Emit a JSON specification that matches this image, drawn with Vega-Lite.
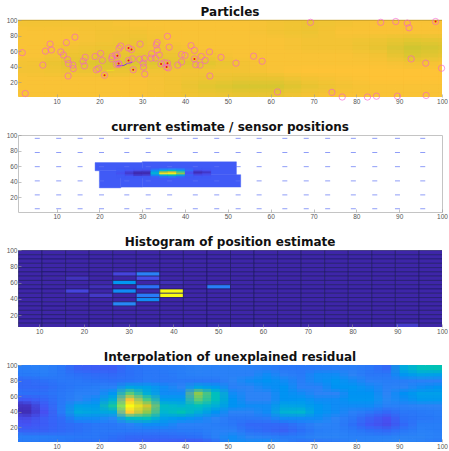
{"$schema":"https://vega.github.io/schema/vega-lite/v6.json","padding":{"left":5,"top":5,"right":0,"bottom":0},"spacing":38,"bounds":"flush","background":"white",
"config":{"view":{"stroke":null},"axis":{"title":null,"labelFont":"Liberation Sans","labelFontSize":6.5,"labelColor":"#555555","domain":false,"grid":false,"tickColor":"#999999","tickSize":-3,"tickWidth":0.6,"labelPadding":4,"labelOverlap":false,"labelFlush":false},"title":{"font":"DejaVu Sans","fontWeight":"bold","fontSize":12,"color":"#111111","anchor":"middle","offset":-2}},
"datasets":{
"particles":[{"x":2,"y":58},{"x":2.7,"y":5.5},{"x":6.8,"y":42},{"x":7.4,"y":60},{"x":8.5,"y":69},{"x":8.8,"y":61.5},{"x":11,"y":59},{"x":11.6,"y":55},{"x":12.3,"y":71},{"x":12.6,"y":49},{"x":12.8,"y":44},{"x":12.7,"y":28},{"x":14.3,"y":78},{"x":13.8,"y":42},{"x":13.9,"y":37.5},{"x":16.2,"y":47},{"x":16.5,"y":41},{"x":16.7,"y":52},{"x":19,"y":53},{"x":19.3,"y":36},{"x":19.8,"y":37.5},{"x":20.3,"y":57},{"x":20.7,"y":48},{"x":21.2,"y":29},{"x":22.9,"y":50},{"x":23,"y":53},{"x":23.8,"y":55},{"x":24,"y":43},{"x":24.2,"y":54},{"x":24.6,"y":63.5},{"x":25,"y":66.5},{"x":24.5,"y":44},{"x":24.6,"y":43},{"x":26.8,"y":64},{"x":27.5,"y":62},{"x":26.8,"y":48},{"x":27.7,"y":50},{"x":27.9,"y":36},{"x":29.5,"y":69},{"x":29.4,"y":49.5},{"x":30.2,"y":44.5},{"x":30.3,"y":39.5},{"x":30.6,"y":30.5},{"x":30.5,"y":50.5},{"x":32.2,"y":56.5},{"x":32.1,"y":51},{"x":33.1,"y":51},{"x":33.5,"y":71},{"x":33.3,"y":68},{"x":33.5,"y":61.5},{"x":34,"y":55},{"x":34.4,"y":43.5},{"x":35.2,"y":45},{"x":35.9,"y":79},{"x":36.3,"y":65},{"x":35.9,"y":44.5},{"x":35.7,"y":39.5},{"x":36.1,"y":38.5},{"x":38.3,"y":42},{"x":39.2,"y":55.5},{"x":39.2,"y":46},{"x":40,"y":54.5},{"x":41.4,"y":67},{"x":42.2,"y":61},{"x":42.2,"y":50},{"x":42.5,"y":42.5},{"x":43.5,"y":42},{"x":43.8,"y":53},{"x":44.7,"y":48},{"x":45.7,"y":59},{"x":45.8,"y":28},{"x":48.4,"y":52},{"x":51.9,"y":44.5},{"x":56,"y":53.5},{"x":58,"y":47},{"x":61.6,"y":7.5},{"x":69.3,"y":97},{"x":74.3,"y":7},{"x":76.7,"y":1},{"x":82.6,"y":1},{"x":84.7,"y":2},{"x":85.7,"y":97},{"x":89.2,"y":98},{"x":89.6,"y":2},{"x":91.9,"y":96},{"x":92.3,"y":90},{"x":92.8,"y":50},{"x":96.2,"y":44.5},{"x":96.3,"y":3},{"x":98.5,"y":98},{"x":99.9,"y":38}],
"reddots":[{"x":21.2,"y":29},{"x":24.2,"y":54},{"x":24.5,"y":44},{"x":26.8,"y":64},{"x":27.5,"y":62},{"x":26.8,"y":48},{"x":27.9,"y":36},{"x":34.4,"y":43.5},{"x":35.9,"y":44.5},{"x":35.7,"y":39.5},{"x":42.2,"y":50},{"x":98.5,"y":98}],
"track":[{"x":24,"y":41},{"x":25.7,"y":41.5},{"x":26.5,"y":44},{"x":27.7,"y":45.5}],
"streak":[{"x":21.7,"y":35},{"x":23.5,"y":35.5}],
"topedge":[{"x":1,"y":99.6},{"x":100,"y":99.6}],
"bg1":[
{"x":1,"y":90,"v":0.84},{"x":9,"y":90,"v":0.84},{"x":17,"y":90,"v":0.84},{"x":25,"y":90,"v":0.85},{"x":33,"y":90,"v":0.85},{"x":41,"y":90,"v":0.85},{"x":49,"y":90,"v":0.85},{"x":57,"y":90,"v":0.84},{"x":65,"y":90,"v":0.83},{"x":73,"y":90,"v":0.84},{"x":81,"y":90,"v":0.85},{"x":89,"y":90,"v":0.85},{"x":97,"y":90,"v":0.85},
{"x":1,"y":80,"v":0.85},{"x":9,"y":80,"v":0.85},{"x":17,"y":80,"v":0.84},{"x":25,"y":80,"v":0.84},{"x":33,"y":80,"v":0.85},{"x":41,"y":80,"v":0.85},{"x":49,"y":80,"v":0.85},{"x":57,"y":80,"v":0.84},{"x":65,"y":80,"v":0.83},{"x":73,"y":80,"v":0.85},{"x":81,"y":80,"v":0.85},{"x":89,"y":80,"v":0.85},{"x":97,"y":80,"v":0.85},
{"x":1,"y":70,"v":0.85},{"x":9,"y":70,"v":0.85},{"x":17,"y":70,"v":0.84},{"x":25,"y":70,"v":0.83},{"x":33,"y":70,"v":0.85},{"x":41,"y":70,"v":0.85},{"x":49,"y":70,"v":0.85},{"x":57,"y":70,"v":0.85},{"x":65,"y":70,"v":0.84},{"x":73,"y":70,"v":0.84},{"x":81,"y":70,"v":0.83},{"x":89,"y":70,"v":0.81},{"x":97,"y":70,"v":0.82},
{"x":1,"y":60,"v":0.85},{"x":9,"y":60,"v":0.84},{"x":17,"y":60,"v":0.83},{"x":25,"y":60,"v":0.83},{"x":33,"y":60,"v":0.84},{"x":41,"y":60,"v":0.85},{"x":49,"y":60,"v":0.85},{"x":57,"y":60,"v":0.85},{"x":65,"y":60,"v":0.84},{"x":73,"y":60,"v":0.84},{"x":81,"y":60,"v":0.82},{"x":89,"y":60,"v":0.78},{"x":97,"y":60,"v":0.8},
{"x":1,"y":50,"v":0.85},{"x":9,"y":50,"v":0.83},{"x":17,"y":50,"v":0.82},{"x":25,"y":50,"v":0.82},{"x":33,"y":50,"v":0.83},{"x":41,"y":50,"v":0.84},{"x":49,"y":50,"v":0.85},{"x":57,"y":50,"v":0.85},{"x":65,"y":50,"v":0.85},{"x":73,"y":50,"v":0.85},{"x":81,"y":50,"v":0.84},{"x":89,"y":50,"v":0.8},{"x":97,"y":50,"v":0.82},
{"x":1,"y":40,"v":0.84},{"x":9,"y":40,"v":0.81},{"x":17,"y":40,"v":0.8},{"x":25,"y":40,"v":0.8},{"x":33,"y":40,"v":0.81},{"x":41,"y":40,"v":0.81},{"x":49,"y":40,"v":0.84},{"x":57,"y":40,"v":0.85},{"x":65,"y":40,"v":0.85},{"x":73,"y":40,"v":0.85},{"x":81,"y":40,"v":0.85},{"x":89,"y":40,"v":0.84},{"x":97,"y":40,"v":0.85},
{"x":1,"y":30,"v":0.84},{"x":9,"y":30,"v":0.83},{"x":17,"y":30,"v":0.82},{"x":25,"y":30,"v":0.83},{"x":33,"y":30,"v":0.84},{"x":41,"y":30,"v":0.84},{"x":49,"y":30,"v":0.84},{"x":57,"y":30,"v":0.85},{"x":65,"y":30,"v":0.86},{"x":73,"y":30,"v":0.86},{"x":81,"y":30,"v":0.86},{"x":89,"y":30,"v":0.86},{"x":97,"y":30,"v":0.86},
{"x":1,"y":20,"v":0.85},{"x":9,"y":20,"v":0.85},{"x":17,"y":20,"v":0.85},{"x":25,"y":20,"v":0.85},{"x":33,"y":20,"v":0.84},{"x":41,"y":20,"v":0.83},{"x":49,"y":20,"v":0.82},{"x":57,"y":20,"v":0.82},{"x":65,"y":20,"v":0.84},{"x":73,"y":20,"v":0.85},{"x":81,"y":20,"v":0.86},{"x":89,"y":20,"v":0.86},{"x":97,"y":20,"v":0.86},
{"x":1,"y":10,"v":0.85},{"x":9,"y":10,"v":0.85},{"x":17,"y":10,"v":0.85},{"x":25,"y":10,"v":0.85},{"x":33,"y":10,"v":0.84},{"x":41,"y":10,"v":0.81},{"x":49,"y":10,"v":0.79},{"x":57,"y":10,"v":0.79},{"x":65,"y":10,"v":0.82},{"x":73,"y":10,"v":0.84},{"x":81,"y":10,"v":0.85},{"x":89,"y":10,"v":0.85},{"x":97,"y":10,"v":0.85},
{"x":1,"y":0,"v":0.85},{"x":9,"y":0,"v":0.85},{"x":17,"y":0,"v":0.85},{"x":25,"y":0,"v":0.85},{"x":33,"y":0,"v":0.84},{"x":41,"y":0,"v":0.83},{"x":49,"y":0,"v":0.82},{"x":57,"y":0,"v":0.82},{"x":65,"y":0,"v":0.84},{"x":73,"y":0,"v":0.85},{"x":81,"y":0,"v":0.85},{"x":89,"y":0,"v":0.85},{"x":97,"y":0,"v":0.85}],
"sensors":[{"x":5.5,"y":95.7},{"x":10.5,"y":95.7},{"x":15.5,"y":95.7},{"x":20.5,"y":95.7},{"x":26.4,"y":95.7},{"x":31.4,"y":95.7},{"x":36.4,"y":95.7},{"x":42.4,"y":95.7},{"x":47.4,"y":95.7},{"x":52.4,"y":95.7},{"x":57.3,"y":95.7},{"x":63.3,"y":95.7},{"x":68.3,"y":95.7},{"x":73.3,"y":95.7},{"x":79.3,"y":95.7},{"x":84.3,"y":95.7},{"x":89.6,"y":95.7},{"x":95.5,"y":95.7},
{"x":5.5,"y":77.5},{"x":10.5,"y":77.5},{"x":15.5,"y":77.5},{"x":20.5,"y":77.5},{"x":26.4,"y":77.5},{"x":31.4,"y":77.5},{"x":36.4,"y":77.5},{"x":42.4,"y":77.5},{"x":47.4,"y":77.5},{"x":52.4,"y":77.5},{"x":57.3,"y":77.5},{"x":63.3,"y":77.5},{"x":68.3,"y":77.5},{"x":73.3,"y":77.5},{"x":79.3,"y":77.5},{"x":84.3,"y":77.5},{"x":89.6,"y":77.5},{"x":95.5,"y":77.5},
{"x":5.5,"y":59.3},{"x":10.5,"y":59.3},{"x":15.5,"y":59.3},{"x":20.5,"y":59.3},{"x":26.4,"y":59.3},{"x":31.4,"y":59.3},{"x":36.4,"y":59.3},{"x":42.4,"y":59.3},{"x":47.4,"y":59.3},{"x":52.4,"y":59.3},{"x":57.3,"y":59.3},{"x":63.3,"y":59.3},{"x":68.3,"y":59.3},{"x":73.3,"y":59.3},{"x":79.3,"y":59.3},{"x":84.3,"y":59.3},{"x":89.6,"y":59.3},{"x":95.5,"y":59.3},
{"x":5.5,"y":41},{"x":10.5,"y":41},{"x":15.5,"y":41},{"x":20.5,"y":41},{"x":26.4,"y":41},{"x":31.4,"y":41},{"x":36.4,"y":41},{"x":42.4,"y":41},{"x":47.4,"y":41},{"x":52.4,"y":41},{"x":57.3,"y":41},{"x":63.3,"y":41},{"x":68.3,"y":41},{"x":73.3,"y":41},{"x":79.3,"y":41},{"x":84.3,"y":41},{"x":89.6,"y":41},{"x":95.5,"y":41},
{"x":5.5,"y":23},{"x":10.5,"y":23},{"x":15.5,"y":23},{"x":20.5,"y":23},{"x":26.4,"y":23},{"x":31.4,"y":23},{"x":36.4,"y":23},{"x":42.4,"y":23},{"x":47.4,"y":23},{"x":52.4,"y":23},{"x":57.3,"y":23},{"x":63.3,"y":23},{"x":68.3,"y":23},{"x":73.3,"y":23},{"x":79.3,"y":23},{"x":84.3,"y":23},{"x":89.6,"y":23},{"x":95.5,"y":23},
{"x":5.5,"y":5.2},{"x":10.5,"y":5.2},{"x":15.5,"y":5.2},{"x":20.5,"y":5.2},{"x":26.4,"y":5.2},{"x":31.4,"y":5.2},{"x":36.4,"y":5.2},{"x":42.4,"y":5.2},{"x":47.4,"y":5.2},{"x":52.4,"y":5.2},{"x":57.3,"y":5.2},{"x":63.3,"y":5.2},{"x":68.3,"y":5.2},{"x":73.3,"y":5.2},{"x":79.3,"y":5.2},{"x":84.3,"y":5.2},{"x":89.6,"y":5.2},{"x":95.5,"y":5.2}],
"est":[{"x":19,"x2":30,"y":54,"y2":64.5,"v":0.16},{"x":30,"x2":52,"y":49,"y2":65.5,"v":0.16},{"x":20,"x2":25,"y":32,"y2":54,"v":0.16},{"x":25,"x2":30,"y":33,"y2":54,"v":0.16},{"x":30,"x2":53,"y":33,"y2":49,"v":0.16},
{"x":24,"x2":26,"y":55,"y2":57,"v":0.16},{"x":26,"x2":28,"y":55,"y2":57,"v":0.16},{"x":28,"x2":30,"y":55,"y2":57,"v":0.16},{"x":30,"x2":32,"y":55,"y2":57,"v":0.16},{"x":32,"x2":34,"y":55,"y2":57,"v":0.2},{"x":34,"x2":36,"y":55,"y2":57,"v":0.25},{"x":36,"x2":38,"y":55,"y2":57,"v":0.27},{"x":38,"x2":40,"y":55,"y2":57,"v":0.25},{"x":40,"x2":42,"y":55,"y2":57,"v":0.18},{"x":42,"x2":44,"y":55,"y2":57,"v":0.16},{"x":44,"x2":46,"y":55,"y2":57,"v":0.16},
{"x":24,"x2":26,"y":53,"y2":55,"v":0.16},{"x":26,"x2":28,"y":53,"y2":55,"v":0.14},{"x":28,"x2":30,"y":53,"y2":55,"v":0.12},{"x":30,"x2":32,"y":53,"y2":55,"v":0.11},{"x":32,"x2":34,"y":53,"y2":55,"v":0.3},{"x":34,"x2":36,"y":53,"y2":55,"v":0.45},{"x":36,"x2":38,"y":53,"y2":55,"v":0.5},{"x":38,"x2":40,"y":53,"y2":55,"v":0.4},{"x":40,"x2":42,"y":53,"y2":55,"v":0.2},{"x":42,"x2":44,"y":53,"y2":55,"v":0.11},{"x":44,"x2":46,"y":53,"y2":55,"v":0.13},
{"x":24,"x2":26,"y":51,"y2":53,"v":0.15},{"x":26,"x2":28,"y":51,"y2":53,"v":0.09},{"x":28,"x2":30,"y":51,"y2":53,"v":0.03},{"x":30,"x2":32,"y":51,"y2":53,"v":0.03},{"x":32,"x2":34,"y":51,"y2":53,"v":0.4},{"x":34,"x2":36,"y":51,"y2":53,"v":0.72},{"x":36,"x2":38,"y":51,"y2":53,"v":0.8},{"x":38,"x2":40,"y":51,"y2":53,"v":0.6},{"x":40,"x2":42,"y":51,"y2":53,"v":0.15},{"x":42,"x2":44,"y":51,"y2":53,"v":0.03},{"x":44,"x2":46,"y":51,"y2":53,"v":0.06},
{"x":24,"x2":26,"y":49,"y2":51,"v":0.14},{"x":26,"x2":28,"y":49,"y2":51,"v":0.07},{"x":28,"x2":30,"y":49,"y2":51,"v":0.01},{"x":30,"x2":32,"y":49,"y2":51,"v":0.02},{"x":32,"x2":34,"y":49,"y2":51,"v":0.45},{"x":34,"x2":36,"y":49,"y2":51,"v":0.96},{"x":36,"x2":38,"y":49,"y2":51,"v":1},{"x":38,"x2":40,"y":49,"y2":51,"v":0.7},{"x":40,"x2":42,"y":49,"y2":51,"v":0.14},{"x":42,"x2":44,"y":49,"y2":51,"v":0.06},{"x":44,"x2":46,"y":49,"y2":51,"v":0.1},
{"x":24,"x2":26,"y":47,"y2":49,"v":0.16},{"x":26,"x2":28,"y":47,"y2":49,"v":0.13},{"x":28,"x2":30,"y":47,"y2":49,"v":0.07},{"x":30,"x2":32,"y":47,"y2":49,"v":0.09},{"x":32,"x2":34,"y":47,"y2":49,"v":0.3},{"x":34,"x2":36,"y":47,"y2":49,"v":0.45},{"x":36,"x2":38,"y":47,"y2":49,"v":0.52},{"x":38,"x2":40,"y":47,"y2":49,"v":0.4},{"x":40,"x2":42,"y":47,"y2":49,"v":0.18},{"x":42,"x2":44,"y":47,"y2":49,"v":0.13},{"x":44,"x2":46,"y":47,"y2":49,"v":0.14},
{"x":24,"x2":26,"y":45,"y2":47,"v":0.16},{"x":26,"x2":28,"y":45,"y2":47,"v":0.16},{"x":28,"x2":30,"y":45,"y2":47,"v":0.16},{"x":30,"x2":32,"y":45,"y2":47,"v":0.16},{"x":32,"x2":34,"y":45,"y2":47,"v":0.18},{"x":34,"x2":36,"y":45,"y2":47,"v":0.22},{"x":36,"x2":38,"y":45,"y2":47,"v":0.24},{"x":38,"x2":40,"y":45,"y2":47,"v":0.2},{"x":40,"x2":42,"y":45,"y2":47,"v":0.16},{"x":42,"x2":44,"y":45,"y2":47,"v":0.16},{"x":44,"x2":46,"y":45,"y2":47,"v":0.16}],
"hist":[
{"x":5.26,"y":94.74,"v":0},{"x":10.53,"y":94.74,"v":0},{"x":15.79,"y":94.74,"v":0},{"x":21.05,"y":94.74,"v":0},{"x":26.32,"y":94.74,"v":0},{"x":31.58,"y":94.74,"v":0},{"x":36.84,"y":94.74,"v":0},{"x":42.11,"y":94.74,"v":0},{"x":47.37,"y":94.74,"v":0},{"x":52.63,"y":94.74,"v":0},{"x":57.89,"y":94.74,"v":0},{"x":63.16,"y":94.74,"v":0},{"x":68.42,"y":94.74,"v":0},{"x":73.68,"y":94.74,"v":0},{"x":78.95,"y":94.74,"v":0},{"x":84.21,"y":94.74,"v":0},{"x":89.47,"y":94.74,"v":0},{"x":94.74,"y":94.74,"v":0},
{"x":5.26,"y":89.47,"v":0},{"x":10.53,"y":89.47,"v":0},{"x":15.79,"y":89.47,"v":0},{"x":21.05,"y":89.47,"v":0},{"x":26.32,"y":89.47,"v":0},{"x":31.58,"y":89.47,"v":0},{"x":36.84,"y":89.47,"v":0},{"x":42.11,"y":89.47,"v":0},{"x":47.37,"y":89.47,"v":0},{"x":52.63,"y":89.47,"v":0},{"x":57.89,"y":89.47,"v":0},{"x":63.16,"y":89.47,"v":0},{"x":68.42,"y":89.47,"v":0},{"x":73.68,"y":89.47,"v":0},{"x":78.95,"y":89.47,"v":0},{"x":84.21,"y":89.47,"v":0},{"x":89.47,"y":89.47,"v":0},{"x":94.74,"y":89.47,"v":0},
{"x":5.26,"y":84.21,"v":0},{"x":10.53,"y":84.21,"v":0},{"x":15.79,"y":84.21,"v":0},{"x":21.05,"y":84.21,"v":0},{"x":26.32,"y":84.21,"v":0},{"x":31.58,"y":84.21,"v":0},{"x":36.84,"y":84.21,"v":0},{"x":42.11,"y":84.21,"v":0},{"x":47.37,"y":84.21,"v":0},{"x":52.63,"y":84.21,"v":0},{"x":57.89,"y":84.21,"v":0},{"x":63.16,"y":84.21,"v":0},{"x":68.42,"y":84.21,"v":0},{"x":73.68,"y":84.21,"v":0},{"x":78.95,"y":84.21,"v":0},{"x":84.21,"y":84.21,"v":0},{"x":89.47,"y":84.21,"v":0},{"x":94.74,"y":84.21,"v":0},
{"x":5.26,"y":78.95,"v":0},{"x":10.53,"y":78.95,"v":0},{"x":15.79,"y":78.95,"v":0},{"x":21.05,"y":78.95,"v":0},{"x":26.32,"y":78.95,"v":0},{"x":31.58,"y":78.95,"v":0},{"x":36.84,"y":78.95,"v":0},{"x":42.11,"y":78.95,"v":0},{"x":47.37,"y":78.95,"v":0},{"x":52.63,"y":78.95,"v":0},{"x":57.89,"y":78.95,"v":0},{"x":63.16,"y":78.95,"v":0},{"x":68.42,"y":78.95,"v":0},{"x":73.68,"y":78.95,"v":0},{"x":78.95,"y":78.95,"v":0},{"x":84.21,"y":78.95,"v":0},{"x":89.47,"y":78.95,"v":0},{"x":94.74,"y":78.95,"v":0},
{"x":5.26,"y":73.68,"v":0},{"x":10.53,"y":73.68,"v":0},{"x":15.79,"y":73.68,"v":0},{"x":21.05,"y":73.68,"v":0},{"x":26.32,"y":73.68,"v":0},{"x":31.58,"y":73.68,"v":0},{"x":36.84,"y":73.68,"v":0},{"x":42.11,"y":73.68,"v":0},{"x":47.37,"y":73.68,"v":0},{"x":52.63,"y":73.68,"v":0},{"x":57.89,"y":73.68,"v":0},{"x":63.16,"y":73.68,"v":0},{"x":68.42,"y":73.68,"v":0},{"x":73.68,"y":73.68,"v":0},{"x":78.95,"y":73.68,"v":0},{"x":84.21,"y":73.68,"v":0},{"x":89.47,"y":73.68,"v":0},{"x":94.74,"y":73.68,"v":0},
{"x":5.26,"y":68.42,"v":0},{"x":10.53,"y":68.42,"v":0},{"x":15.79,"y":68.42,"v":0},{"x":21.05,"y":68.42,"v":0},{"x":26.32,"y":68.42,"v":0.1},{"x":31.58,"y":68.42,"v":0.27},{"x":36.84,"y":68.42,"v":0},{"x":42.11,"y":68.42,"v":0},{"x":47.37,"y":68.42,"v":0},{"x":52.63,"y":68.42,"v":0},{"x":57.89,"y":68.42,"v":0},{"x":63.16,"y":68.42,"v":0},{"x":68.42,"y":68.42,"v":0},{"x":73.68,"y":68.42,"v":0},{"x":78.95,"y":68.42,"v":0},{"x":84.21,"y":68.42,"v":0},{"x":89.47,"y":68.42,"v":0},{"x":94.74,"y":68.42,"v":0},
{"x":5.26,"y":63.16,"v":0},{"x":10.53,"y":63.16,"v":0},{"x":15.79,"y":63.16,"v":0.04},{"x":21.05,"y":63.16,"v":0},{"x":26.32,"y":63.16,"v":0},{"x":31.58,"y":63.16,"v":0.12},{"x":36.84,"y":63.16,"v":0},{"x":42.11,"y":63.16,"v":0},{"x":47.37,"y":63.16,"v":0},{"x":52.63,"y":63.16,"v":0},{"x":57.89,"y":63.16,"v":0},{"x":63.16,"y":63.16,"v":0},{"x":68.42,"y":63.16,"v":0},{"x":73.68,"y":63.16,"v":0},{"x":78.95,"y":63.16,"v":0},{"x":84.21,"y":63.16,"v":0},{"x":89.47,"y":63.16,"v":0},{"x":94.74,"y":63.16,"v":0},
{"x":5.26,"y":57.89,"v":0},{"x":10.53,"y":57.89,"v":0},{"x":15.79,"y":57.89,"v":0},{"x":21.05,"y":57.89,"v":0},{"x":26.32,"y":57.89,"v":0.33},{"x":31.58,"y":57.89,"v":0},{"x":36.84,"y":57.89,"v":0.03},{"x":42.11,"y":57.89,"v":0},{"x":47.37,"y":57.89,"v":0},{"x":52.63,"y":57.89,"v":0},{"x":57.89,"y":57.89,"v":0},{"x":63.16,"y":57.89,"v":0},{"x":68.42,"y":57.89,"v":0},{"x":73.68,"y":57.89,"v":0},{"x":78.95,"y":57.89,"v":0},{"x":84.21,"y":57.89,"v":0},{"x":89.47,"y":57.89,"v":0},{"x":94.74,"y":57.89,"v":0},
{"x":5.26,"y":52.63,"v":0},{"x":10.53,"y":52.63,"v":0},{"x":15.79,"y":52.63,"v":0},{"x":21.05,"y":52.63,"v":0.03},{"x":26.32,"y":52.63,"v":0},{"x":31.58,"y":52.63,"v":0.22},{"x":36.84,"y":52.63,"v":0},{"x":42.11,"y":52.63,"v":0},{"x":47.37,"y":52.63,"v":0.26},{"x":52.63,"y":52.63,"v":0},{"x":57.89,"y":52.63,"v":0},{"x":63.16,"y":52.63,"v":0},{"x":68.42,"y":52.63,"v":0},{"x":73.68,"y":52.63,"v":0},{"x":78.95,"y":52.63,"v":0},{"x":84.21,"y":52.63,"v":0},{"x":89.47,"y":52.63,"v":0},{"x":94.74,"y":52.63,"v":0},
{"x":5.26,"y":47.37,"v":0},{"x":10.53,"y":47.37,"v":0},{"x":15.79,"y":47.37,"v":0.1},{"x":21.05,"y":47.37,"v":0},{"x":26.32,"y":47.37,"v":0.3},{"x":31.58,"y":47.37,"v":0},{"x":36.84,"y":47.37,"v":1},{"x":42.11,"y":47.37,"v":0},{"x":47.37,"y":47.37,"v":0},{"x":52.63,"y":47.37,"v":0},{"x":57.89,"y":47.37,"v":0},{"x":63.16,"y":47.37,"v":0},{"x":68.42,"y":47.37,"v":0},{"x":73.68,"y":47.37,"v":0},{"x":78.95,"y":47.37,"v":0},{"x":84.21,"y":47.37,"v":0},{"x":89.47,"y":47.37,"v":0},{"x":94.74,"y":47.37,"v":0},
{"x":5.26,"y":42.11,"v":0},{"x":10.53,"y":42.11,"v":0},{"x":15.79,"y":42.11,"v":0},{"x":21.05,"y":42.11,"v":0.06},{"x":26.32,"y":42.11,"v":0},{"x":31.58,"y":42.11,"v":0.25},{"x":36.84,"y":42.11,"v":1},{"x":42.11,"y":42.11,"v":0},{"x":47.37,"y":42.11,"v":0},{"x":52.63,"y":42.11,"v":0},{"x":57.89,"y":42.11,"v":0},{"x":63.16,"y":42.11,"v":0},{"x":68.42,"y":42.11,"v":0},{"x":73.68,"y":42.11,"v":0},{"x":78.95,"y":42.11,"v":0},{"x":84.21,"y":42.11,"v":0},{"x":89.47,"y":42.11,"v":0},{"x":94.74,"y":42.11,"v":0},
{"x":5.26,"y":36.84,"v":0},{"x":10.53,"y":36.84,"v":0},{"x":15.79,"y":36.84,"v":0},{"x":21.05,"y":36.84,"v":0},{"x":26.32,"y":36.84,"v":0},{"x":31.58,"y":36.84,"v":0.3},{"x":36.84,"y":36.84,"v":0},{"x":42.11,"y":36.84,"v":0},{"x":47.37,"y":36.84,"v":0},{"x":52.63,"y":36.84,"v":0},{"x":57.89,"y":36.84,"v":0},{"x":63.16,"y":36.84,"v":0},{"x":68.42,"y":36.84,"v":0},{"x":73.68,"y":36.84,"v":0},{"x":78.95,"y":36.84,"v":0},{"x":84.21,"y":36.84,"v":0},{"x":89.47,"y":36.84,"v":0},{"x":94.74,"y":36.84,"v":0},
{"x":5.26,"y":31.58,"v":0},{"x":10.53,"y":31.58,"v":0},{"x":15.79,"y":31.58,"v":0},{"x":21.05,"y":31.58,"v":0},{"x":26.32,"y":31.58,"v":0.29},{"x":31.58,"y":31.58,"v":0},{"x":36.84,"y":31.58,"v":0},{"x":42.11,"y":31.58,"v":0},{"x":47.37,"y":31.58,"v":0},{"x":52.63,"y":31.58,"v":0},{"x":57.89,"y":31.58,"v":0},{"x":63.16,"y":31.58,"v":0},{"x":68.42,"y":31.58,"v":0},{"x":73.68,"y":31.58,"v":0},{"x":78.95,"y":31.58,"v":0},{"x":84.21,"y":31.58,"v":0},{"x":89.47,"y":31.58,"v":0},{"x":94.74,"y":31.58,"v":0},
{"x":5.26,"y":26.32,"v":0},{"x":10.53,"y":26.32,"v":0},{"x":15.79,"y":26.32,"v":0},{"x":21.05,"y":26.32,"v":0},{"x":26.32,"y":26.32,"v":0},{"x":31.58,"y":26.32,"v":0},{"x":36.84,"y":26.32,"v":0},{"x":42.11,"y":26.32,"v":0},{"x":47.37,"y":26.32,"v":0},{"x":52.63,"y":26.32,"v":0},{"x":57.89,"y":26.32,"v":0},{"x":63.16,"y":26.32,"v":0},{"x":68.42,"y":26.32,"v":0},{"x":73.68,"y":26.32,"v":0},{"x":78.95,"y":26.32,"v":0},{"x":84.21,"y":26.32,"v":0},{"x":89.47,"y":26.32,"v":0},{"x":94.74,"y":26.32,"v":0},
{"x":5.26,"y":21.05,"v":0},{"x":10.53,"y":21.05,"v":0},{"x":15.79,"y":21.05,"v":0},{"x":21.05,"y":21.05,"v":0},{"x":26.32,"y":21.05,"v":0},{"x":31.58,"y":21.05,"v":0},{"x":36.84,"y":21.05,"v":0},{"x":42.11,"y":21.05,"v":0},{"x":47.37,"y":21.05,"v":0},{"x":52.63,"y":21.05,"v":0},{"x":57.89,"y":21.05,"v":0},{"x":63.16,"y":21.05,"v":0},{"x":68.42,"y":21.05,"v":0},{"x":73.68,"y":21.05,"v":0},{"x":78.95,"y":21.05,"v":0},{"x":84.21,"y":21.05,"v":0},{"x":89.47,"y":21.05,"v":0},{"x":94.74,"y":21.05,"v":0},
{"x":5.26,"y":15.79,"v":0},{"x":10.53,"y":15.79,"v":0},{"x":15.79,"y":15.79,"v":0},{"x":21.05,"y":15.79,"v":0},{"x":26.32,"y":15.79,"v":0},{"x":31.58,"y":15.79,"v":0},{"x":36.84,"y":15.79,"v":0},{"x":42.11,"y":15.79,"v":0},{"x":47.37,"y":15.79,"v":0},{"x":52.63,"y":15.79,"v":0},{"x":57.89,"y":15.79,"v":0},{"x":63.16,"y":15.79,"v":0},{"x":68.42,"y":15.79,"v":0},{"x":73.68,"y":15.79,"v":0},{"x":78.95,"y":15.79,"v":0},{"x":84.21,"y":15.79,"v":0},{"x":89.47,"y":15.79,"v":0},{"x":94.74,"y":15.79,"v":0},
{"x":5.26,"y":10.53,"v":0},{"x":10.53,"y":10.53,"v":0},{"x":15.79,"y":10.53,"v":0},{"x":21.05,"y":10.53,"v":0},{"x":26.32,"y":10.53,"v":0},{"x":31.58,"y":10.53,"v":0},{"x":36.84,"y":10.53,"v":0},{"x":42.11,"y":10.53,"v":0},{"x":47.37,"y":10.53,"v":0},{"x":52.63,"y":10.53,"v":0},{"x":57.89,"y":10.53,"v":0},{"x":63.16,"y":10.53,"v":0},{"x":68.42,"y":10.53,"v":0},{"x":73.68,"y":10.53,"v":0},{"x":78.95,"y":10.53,"v":0},{"x":84.21,"y":10.53,"v":0},{"x":89.47,"y":10.53,"v":0},{"x":94.74,"y":10.53,"v":0},
{"x":5.26,"y":5.26,"v":0},{"x":10.53,"y":5.26,"v":0},{"x":15.79,"y":5.26,"v":0},{"x":21.05,"y":5.26,"v":0},{"x":26.32,"y":5.26,"v":0},{"x":31.58,"y":5.26,"v":0},{"x":36.84,"y":5.26,"v":0},{"x":42.11,"y":5.26,"v":0},{"x":47.37,"y":5.26,"v":0},{"x":52.63,"y":5.26,"v":0},{"x":57.89,"y":5.26,"v":0},{"x":63.16,"y":5.26,"v":0},{"x":68.42,"y":5.26,"v":0},{"x":73.68,"y":5.26,"v":0},{"x":78.95,"y":5.26,"v":0},{"x":84.21,"y":5.26,"v":0},{"x":89.47,"y":5.26,"v":0.07},{"x":94.74,"y":5.26,"v":0}],
"res":[
{"x":1,"y":92,"v":0.26},{"x":5,"y":92,"v":0.27},{"x":9,"y":92,"v":0.24},{"x":13,"y":92,"v":0.18},{"x":17,"y":92,"v":0.17},{"x":21,"y":92,"v":0.17},{"x":25,"y":92,"v":0.22},{"x":29,"y":92,"v":0.24},{"x":33,"y":92,"v":0.25},{"x":37,"y":92,"v":0.26},{"x":41,"y":92,"v":0.28},{"x":45,"y":92,"v":0.27},{"x":49,"y":92,"v":0.27},{"x":53,"y":92,"v":0.27},{"x":57,"y":92,"v":0.26},{"x":61,"y":92,"v":0.24},{"x":65,"y":92,"v":0.24},{"x":69,"y":92,"v":0.25},{"x":73,"y":92,"v":0.26},{"x":77,"y":92,"v":0.26},{"x":81,"y":92,"v":0.24},{"x":85,"y":92,"v":0.2},{"x":89,"y":92,"v":0.4},{"x":93,"y":92,"v":0.5},{"x":97,"y":92,"v":0.52},
{"x":1,"y":84,"v":0.25},{"x":5,"y":84,"v":0.26},{"x":9,"y":84,"v":0.24},{"x":13,"y":84,"v":0.22},{"x":17,"y":84,"v":0.21},{"x":21,"y":84,"v":0.2},{"x":25,"y":84,"v":0.22},{"x":29,"y":84,"v":0.24},{"x":33,"y":84,"v":0.24},{"x":37,"y":84,"v":0.26},{"x":41,"y":84,"v":0.27},{"x":45,"y":84,"v":0.27},{"x":49,"y":84,"v":0.27},{"x":53,"y":84,"v":0.27},{"x":57,"y":84,"v":0.3},{"x":61,"y":84,"v":0.27},{"x":65,"y":84,"v":0.25},{"x":69,"y":84,"v":0.3},{"x":73,"y":84,"v":0.3},{"x":77,"y":84,"v":0.28},{"x":81,"y":84,"v":0.24},{"x":85,"y":84,"v":0.24},{"x":89,"y":84,"v":0.33},{"x":93,"y":84,"v":0.37},{"x":97,"y":84,"v":0.36},
{"x":1,"y":76,"v":0.2},{"x":5,"y":76,"v":0.22},{"x":9,"y":76,"v":0.24},{"x":13,"y":76,"v":0.24},{"x":17,"y":76,"v":0.23},{"x":21,"y":76,"v":0.22},{"x":25,"y":76,"v":0.23},{"x":29,"y":76,"v":0.25},{"x":33,"y":76,"v":0.24},{"x":37,"y":76,"v":0.25},{"x":41,"y":76,"v":0.24},{"x":45,"y":76,"v":0.24},{"x":49,"y":76,"v":0.28},{"x":53,"y":76,"v":0.3},{"x":57,"y":76,"v":0.32},{"x":61,"y":76,"v":0.3},{"x":65,"y":76,"v":0.26},{"x":69,"y":76,"v":0.3},{"x":73,"y":76,"v":0.33},{"x":77,"y":76,"v":0.3},{"x":81,"y":76,"v":0.27},{"x":85,"y":76,"v":0.26},{"x":89,"y":76,"v":0.26},{"x":93,"y":76,"v":0.27},{"x":97,"y":76,"v":0.27},
{"x":1,"y":68,"v":0.2},{"x":5,"y":68,"v":0.2},{"x":9,"y":68,"v":0.23},{"x":13,"y":68,"v":0.25},{"x":17,"y":68,"v":0.26},{"x":21,"y":68,"v":0.27},{"x":25,"y":68,"v":0.38},{"x":29,"y":68,"v":0.36},{"x":33,"y":68,"v":0.3},{"x":37,"y":68,"v":0.28},{"x":41,"y":68,"v":0.38},{"x":45,"y":68,"v":0.34},{"x":49,"y":68,"v":0.27},{"x":53,"y":68,"v":0.28},{"x":57,"y":68,"v":0.3},{"x":61,"y":68,"v":0.32},{"x":65,"y":68,"v":0.27},{"x":69,"y":68,"v":0.27},{"x":73,"y":68,"v":0.32},{"x":77,"y":68,"v":0.33},{"x":81,"y":68,"v":0.3},{"x":85,"y":68,"v":0.27},{"x":89,"y":68,"v":0.28},{"x":93,"y":68,"v":0.3},{"x":97,"y":68,"v":0.32},
{"x":1,"y":60,"v":0.22},{"x":5,"y":60,"v":0.22},{"x":9,"y":60,"v":0.24},{"x":13,"y":60,"v":0.27},{"x":17,"y":60,"v":0.27},{"x":21,"y":60,"v":0.33},{"x":25,"y":60,"v":0.62},{"x":29,"y":60,"v":0.42},{"x":33,"y":60,"v":0.3},{"x":37,"y":60,"v":0.3},{"x":41,"y":60,"v":0.68},{"x":45,"y":60,"v":0.5},{"x":49,"y":60,"v":0.3},{"x":53,"y":60,"v":0.28},{"x":57,"y":60,"v":0.28},{"x":61,"y":60,"v":0.32},{"x":65,"y":60,"v":0.3},{"x":69,"y":60,"v":0.28},{"x":73,"y":60,"v":0.28},{"x":77,"y":60,"v":0.32},{"x":81,"y":60,"v":0.32},{"x":85,"y":60,"v":0.28},{"x":89,"y":60,"v":0.31},{"x":93,"y":60,"v":0.36},{"x":97,"y":60,"v":0.36},
{"x":1,"y":52,"v":0.16},{"x":5,"y":52,"v":0.19},{"x":9,"y":52,"v":0.24},{"x":13,"y":52,"v":0.28},{"x":17,"y":52,"v":0.3},{"x":21,"y":52,"v":0.42},{"x":25,"y":52,"v":0.85},{"x":29,"y":52,"v":0.6},{"x":33,"y":52,"v":0.35},{"x":37,"y":52,"v":0.35},{"x":41,"y":52,"v":0.62},{"x":45,"y":52,"v":0.5},{"x":49,"y":52,"v":0.32},{"x":53,"y":52,"v":0.28},{"x":57,"y":52,"v":0.28},{"x":61,"y":52,"v":0.32},{"x":65,"y":52,"v":0.33},{"x":69,"y":52,"v":0.3},{"x":73,"y":52,"v":0.3},{"x":77,"y":52,"v":0.33},{"x":81,"y":52,"v":0.33},{"x":85,"y":52,"v":0.29},{"x":89,"y":52,"v":0.3},{"x":93,"y":52,"v":0.34},{"x":97,"y":52,"v":0.34},
{"x":1,"y":44,"v":0.05},{"x":5,"y":44,"v":0.16},{"x":9,"y":44,"v":0.25},{"x":13,"y":44,"v":0.36},{"x":17,"y":44,"v":0.35},{"x":21,"y":44,"v":0.55},{"x":25,"y":44,"v":1},{"x":29,"y":44,"v":0.78},{"x":33,"y":44,"v":0.48},{"x":37,"y":44,"v":0.44},{"x":41,"y":44,"v":0.5},{"x":45,"y":44,"v":0.42},{"x":49,"y":44,"v":0.32},{"x":53,"y":44,"v":0.3},{"x":57,"y":44,"v":0.3},{"x":61,"y":44,"v":0.38},{"x":65,"y":44,"v":0.37},{"x":69,"y":44,"v":0.33},{"x":73,"y":44,"v":0.3},{"x":77,"y":44,"v":0.3},{"x":81,"y":44,"v":0.3},{"x":85,"y":44,"v":0.27},{"x":89,"y":44,"v":0.27},{"x":93,"y":44,"v":0.28},{"x":97,"y":44,"v":0.28},
{"x":1,"y":36,"v":0.03},{"x":5,"y":36,"v":0.14},{"x":9,"y":36,"v":0.25},{"x":13,"y":36,"v":0.4},{"x":17,"y":36,"v":0.38},{"x":21,"y":36,"v":0.4},{"x":25,"y":36,"v":0.88},{"x":29,"y":36,"v":0.68},{"x":33,"y":36,"v":0.45},{"x":37,"y":36,"v":0.52},{"x":41,"y":36,"v":0.42},{"x":45,"y":36,"v":0.32},{"x":49,"y":36,"v":0.28},{"x":53,"y":36,"v":0.28},{"x":57,"y":36,"v":0.3},{"x":61,"y":36,"v":0.44},{"x":65,"y":36,"v":0.46},{"x":69,"y":36,"v":0.33},{"x":73,"y":36,"v":0.3},{"x":77,"y":36,"v":0.27},{"x":81,"y":36,"v":0.24},{"x":85,"y":36,"v":0.2},{"x":89,"y":36,"v":0.24},{"x":93,"y":36,"v":0.25},{"x":97,"y":36,"v":0.26},
{"x":1,"y":28,"v":0.12},{"x":5,"y":28,"v":0.17},{"x":9,"y":28,"v":0.21},{"x":13,"y":28,"v":0.3},{"x":17,"y":28,"v":0.3},{"x":21,"y":28,"v":0.29},{"x":25,"y":28,"v":0.48},{"x":29,"y":28,"v":0.5},{"x":33,"y":28,"v":0.36},{"x":37,"y":28,"v":0.33},{"x":41,"y":28,"v":0.3},{"x":45,"y":28,"v":0.28},{"x":49,"y":28,"v":0.24},{"x":53,"y":28,"v":0.24},{"x":57,"y":28,"v":0.25},{"x":61,"y":28,"v":0.3},{"x":65,"y":28,"v":0.3},{"x":69,"y":28,"v":0.3},{"x":73,"y":28,"v":0.28},{"x":77,"y":28,"v":0.24},{"x":81,"y":28,"v":0.18},{"x":85,"y":28,"v":0.14},{"x":89,"y":28,"v":0.22},{"x":93,"y":28,"v":0.24},{"x":97,"y":28,"v":0.25},
{"x":1,"y":20,"v":0.15},{"x":5,"y":20,"v":0.17},{"x":9,"y":20,"v":0.2},{"x":13,"y":20,"v":0.22},{"x":17,"y":20,"v":0.24},{"x":21,"y":20,"v":0.24},{"x":25,"y":20,"v":0.27},{"x":29,"y":20,"v":0.3},{"x":33,"y":20,"v":0.3},{"x":37,"y":20,"v":0.27},{"x":41,"y":20,"v":0.27},{"x":45,"y":20,"v":0.26},{"x":49,"y":20,"v":0.24},{"x":53,"y":20,"v":0.2},{"x":57,"y":20,"v":0.2},{"x":61,"y":20,"v":0.2},{"x":65,"y":20,"v":0.24},{"x":69,"y":20,"v":0.28},{"x":73,"y":20,"v":0.27},{"x":77,"y":20,"v":0.22},{"x":81,"y":20,"v":0.16},{"x":85,"y":20,"v":0.13},{"x":89,"y":20,"v":0.2},{"x":93,"y":20,"v":0.26},{"x":97,"y":20,"v":0.26},
{"x":1,"y":12,"v":0.18},{"x":5,"y":12,"v":0.18},{"x":9,"y":12,"v":0.2},{"x":13,"y":12,"v":0.22},{"x":17,"y":12,"v":0.24},{"x":21,"y":12,"v":0.24},{"x":25,"y":12,"v":0.24},{"x":29,"y":12,"v":0.24},{"x":33,"y":12,"v":0.24},{"x":37,"y":12,"v":0.25},{"x":41,"y":12,"v":0.25},{"x":45,"y":12,"v":0.27},{"x":49,"y":12,"v":0.27},{"x":53,"y":12,"v":0.22},{"x":57,"y":12,"v":0.2},{"x":61,"y":12,"v":0.18},{"x":65,"y":12,"v":0.22},{"x":69,"y":12,"v":0.26},{"x":73,"y":12,"v":0.27},{"x":77,"y":12,"v":0.25},{"x":81,"y":12,"v":0.22},{"x":85,"y":12,"v":0.2},{"x":89,"y":12,"v":0.24},{"x":93,"y":12,"v":0.27},{"x":97,"y":12,"v":0.26},
{"x":1,"y":4,"v":0.26},{"x":5,"y":4,"v":0.26},{"x":9,"y":4,"v":0.25},{"x":13,"y":4,"v":0.24},{"x":17,"y":4,"v":0.24},{"x":21,"y":4,"v":0.22},{"x":25,"y":4,"v":0.2},{"x":29,"y":4,"v":0.2},{"x":33,"y":4,"v":0.2},{"x":37,"y":4,"v":0.21},{"x":41,"y":4,"v":0.22},{"x":45,"y":4,"v":0.27},{"x":49,"y":4,"v":0.3},{"x":53,"y":4,"v":0.28},{"x":57,"y":4,"v":0.27},{"x":61,"y":4,"v":0.25},{"x":65,"y":4,"v":0.26},{"x":69,"y":4,"v":0.28},{"x":73,"y":4,"v":0.28},{"x":77,"y":4,"v":0.27},{"x":81,"y":4,"v":0.27},{"x":85,"y":4,"v":0.27},{"x":89,"y":4,"v":0.28},{"x":93,"y":4,"v":0.28},{"x":97,"y":4,"v":0.27},
{"x":1,"y":-4,"v":0.25},{"x":5,"y":-4,"v":0.24},{"x":9,"y":-4,"v":0.24},{"x":13,"y":-4,"v":0.22},{"x":17,"y":-4,"v":0.22},{"x":21,"y":-4,"v":0.2},{"x":25,"y":-4,"v":0.18},{"x":29,"y":-4,"v":0.16},{"x":33,"y":-4,"v":0.16},{"x":37,"y":-4,"v":0.15},{"x":41,"y":-4,"v":0.14},{"x":45,"y":-4,"v":0.2},{"x":49,"y":-4,"v":0.3},{"x":53,"y":-4,"v":0.3},{"x":57,"y":-4,"v":0.3},{"x":61,"y":-4,"v":0.27},{"x":65,"y":-4,"v":0.22},{"x":69,"y":-4,"v":0.22},{"x":73,"y":-4,"v":0.24},{"x":77,"y":-4,"v":0.27},{"x":81,"y":-4,"v":0.27},{"x":85,"y":-4,"v":0.28},{"x":89,"y":-4,"v":0.28},{"x":93,"y":-4,"v":0.27},{"x":97,"y":-4,"v":0.24}]
},
"vconcat":[
{"title":"Particles","width":424,"height":77,"layer":[
{"data":{"name":"bg1"},"encoding":{"x":{"field":"x","type":"quantitative","bin":{"binned":true,"step":8},"scale":{"domain":[1,100],"nice":false,"zero":false},"axis":{"values":[10,20,30,40,50,60,70,80,90,100],"format":"d"}},"y":{"field":"y","type":"quantitative","bin":{"binned":true,"step":10},"scale":{"domain":[1,100],"nice":false,"zero":false},"axis":{"values":[20,40,60,80,100],"format":"d"}},"color":{"field":"v","type":"quantitative","legend":null,"scale":{"domain":[0,0.143,0.286,0.429,0.571,0.714,0.857,1],"range":["#3e26a8","#4752f4","#2d87f7","#11b1d6","#37c897","#abc739","#fec338","#f9fb14"]}}},
"layer":[{"mark":{"type":"rect","clip":true,"binSpacing":0}},
{"mark":{"type":"rect","clip":true,"binSpacing":0,"xOffset":-8.5,"yOffset":-1.9}},
{"mark":{"type":"rect","clip":true,"binSpacing":0,"xOffset":8.5,"yOffset":-1.9,"opacity":0.5}},
{"mark":{"type":"rect","clip":true,"binSpacing":0,"xOffset":-8.5,"yOffset":1.9,"opacity":0.333}},
{"mark":{"type":"rect","clip":true,"binSpacing":0,"xOffset":8.5,"yOffset":1.9,"opacity":0.25}}]},
{"data":{"name":"topedge"},"mark":{"type":"line","color":"#c79f2a","strokeWidth":1},"encoding":{"x":{"field":"x","type":"quantitative"},"y":{"field":"y","type":"quantitative"}}},
{"data":{"name":"streak"},"mark":{"type":"line","color":"#ecdf20","strokeWidth":1},"encoding":{"x":{"field":"x","type":"quantitative"},"y":{"field":"y","type":"quantitative"}}},
{"data":{"name":"track"},"mark":{"type":"line","color":"#7a3fd0","strokeWidth":1},"encoding":{"x":{"field":"x","type":"quantitative"},"y":{"field":"y","type":"quantitative"}}},
{"data":{"name":"particles"},"mark":{"type":"point","shape":"circle","filled":false,"size":40,"color":"#f45fd0","strokeWidth":0.7,"opacity":0.9},"encoding":{"x":{"field":"x","type":"quantitative"},"y":{"field":"y","type":"quantitative"}}},
{"data":{"name":"reddots"},"mark":{"type":"point","shape":"circle","filled":true,"size":4,"color":"#f01010","opacity":1},"encoding":{"x":{"field":"x","type":"quantitative"},"y":{"field":"y","type":"quantitative"}}}]},
{"title":"current estimate / sensor positions","width":424,"height":77,"view":{"stroke":"#c4c4c4"},"layer":[
{"data":{"name":"est"},"mark":{"type":"rect","clip":true,"strokeWidth":0.4},"encoding":{"x":{"field":"x","type":"quantitative","scale":{"domain":[1,100],"nice":false,"zero":false},"axis":{"values":[10,20,30,40,50,60,70,80,90,100],"format":"d"}},"x2":{"field":"x2"},"y":{"field":"y","type":"quantitative","scale":{"domain":[1,100],"nice":false,"zero":false},"axis":{"values":[20,40,60,80,100],"format":"d"}},"y2":{"field":"y2"},"color":{"field":"v","type":"quantitative","legend":null,"scale":{"domain":[0,0.143,0.286,0.429,0.571,0.714,0.857,1],"range":["#3e26a8","#4752f4","#2d87f7","#11b1d6","#37c897","#abc739","#fec338","#f9fb14"]}},"stroke":{"field":"v","type":"quantitative","legend":null,"scale":{"domain":[0,0.143,0.286,0.429,0.571,0.714,0.857,1],"range":["#3e26a8","#4752f4","#2d87f7","#11b1d6","#37c897","#abc739","#fec338","#f9fb14"]}}}},
{"data":{"name":"sensors"},"mark":{"type":"tick","orient":"horizontal","size":5,"thickness":1,"color":"#5f73f5"},"encoding":{"x":{"field":"x","type":"quantitative","axis":{"values":[10,20,30,40,50,60,70,80,90,100],"format":"d"}},"y":{"field":"y","type":"quantitative","axis":{"values":[20,40,60,80,100],"format":"d"}}}}]},
{"title":"Histogram of position estimate","width":424,"height":77,"layer":[
{"data":{"name":"hist"},"mark":{"type":"rect","clip":true,"binSpacing":0,"stroke":"#1f1a66","strokeWidth":0.7},"encoding":{"x":{"field":"x","type":"quantitative","bin":{"binned":true,"step":5.263},"scale":{"domain":[5.26,100],"nice":false,"zero":false},"axis":{"values":[10,20,30,40,50,60,70,80,90,100],"format":"d"}},"y":{"field":"y","type":"quantitative","bin":{"binned":true,"step":5.263},"scale":{"domain":[5.26,100],"nice":false,"zero":false},"axis":{"values":[20,40,60,80,100],"format":"d"}},"color":{"field":"v","type":"quantitative","legend":null,"scale":{"domain":[0,0.143,0.286,0.429,0.571,0.714,0.857,1],"range":["#3e26a8","#4752f4","#2d87f7","#11b1d6","#37c897","#abc739","#fec338","#f9fb14"]}}}}]},
{"title":"Interpolation of unexplained residual","width":424,"height":77,"layer":[
{"data":{"name":"res"},"encoding":{"x":{"field":"x","type":"quantitative","bin":{"binned":true,"step":4},"scale":{"domain":[1,100],"nice":false,"zero":false},"axis":{"values":[10,20,30,40,50,60,70,80,90,100],"format":"d"}},"y":{"field":"y","type":"quantitative","bin":{"binned":true,"step":8},"scale":{"domain":[1,100],"nice":false,"zero":false},"axis":{"values":[20,40,60,80,100],"format":"d"}},"color":{"field":"v","type":"quantitative","legend":null,"scale":{"domain":[0,0.143,0.286,0.429,0.571,0.714,0.857,1],"range":["#3e26a8","#4752f4","#2d87f7","#11b1d6","#37c897","#abc739","#fec338","#f9fb14"]}}},
"layer":[{"mark":{"type":"rect","clip":true,"binSpacing":0}},
{"mark":{"type":"rect","clip":true,"binSpacing":0,"xOffset":-4.3,"yOffset":-1.55}},
{"mark":{"type":"rect","clip":true,"binSpacing":0,"xOffset":4.3,"yOffset":-1.55,"opacity":0.5}},
{"mark":{"type":"rect","clip":true,"binSpacing":0,"xOffset":-4.3,"yOffset":1.55,"opacity":0.333}},
{"mark":{"type":"rect","clip":true,"binSpacing":0,"xOffset":4.3,"yOffset":1.55,"opacity":0.25}}]}]}
]}
